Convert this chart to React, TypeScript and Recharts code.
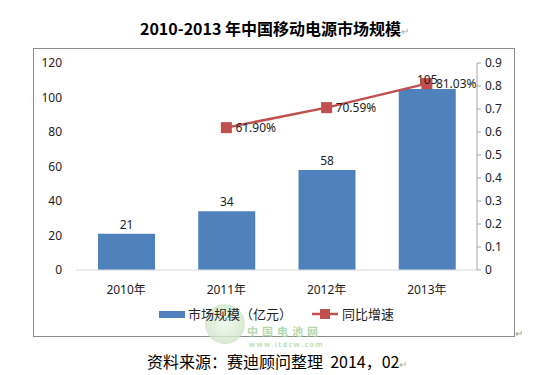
import { ComposedChart, Bar, Line, XAxis, YAxis, LabelList } from 'recharts'

const years = ['2010年', '2011年', '2012年', '2013年']
const marketSize = [21, 34, 58, 105]
const growth = [null, 0.619, 0.7059, 0.8103]
const leftTicks = [0, 20, 40, 60, 80, 100, 120]
const rightTicks = [0, 0.1, 0.2, 0.3, 0.4, 0.5, 0.6, 0.7, 0.8, 0.9]

const data = years.map((y, i) => ({ year: y, size: marketSize[i], rate: growth[i] }))

const BLUE = '#4f81bd'
const RED = '#c0504d'
const FONT = '"Noto Sans", "Noto Sans CJK SC", sans-serif'
const CJK = '"Noto Sans CJK SC", sans-serif'

function SquareDot(props: any) {
  const { cx, cy } = props
  if (cx == null || cy == null) return null
  return <rect x={cx - 5.5} y={cy - 5.5} width={11} height={11} fill={RED} />
}

function LegendBox() {
  return (
    <div style={{ position: 'absolute', left: 159, top: 305, display: 'flex', alignItems: 'center', fontFamily: CJK, fontSize: 13, lineHeight: '18px', color: '#222' }}>
      <span style={{ display: 'inline-block', width: 26, height: 7, background: BLUE, marginRight: 3 }} />
      <span>市场规模（亿元）</span>
      <svg width={26} height={12} style={{ marginLeft: 20, marginRight: 4 }}>
        <line x1={0} y1={6} x2={26} y2={6} stroke={RED} strokeWidth={2.5} />
        <rect x={8} y={1} width={10} height={10} fill={RED} />
      </svg>
      <span>同比增速</span>
    </div>
  )
}

export default function App() {
  return (
    <div style={{ position: 'absolute', left: 0, top: 0, width: 539, height: 375, background: '#fff', overflow: 'hidden' }}>
      <div style={{ position: 'absolute', left: 0, width: 549, top: 16, textAlign: 'center', fontFamily: CJK, fontWeight: 700, fontSize: 16, color: '#000' }}>
        2010-2013 年中国移动电源市场规模<span style={{ color: '#aaa', fontWeight: 400, fontSize: 10 }}>↵</span>
      </div>
      <div style={{ position: 'absolute', left: 33, top: 48, width: 480, height: 287, border: '1px solid #8c8c8c' }} />
      <div style={{ position: 'absolute', left: 515, top: 328, color: '#999', fontSize: 10, lineHeight: 1, fontFamily: CJK }}>↵</div>
      <div style={{ position: 'absolute', left: 205, top: 304, width: 40, height: 40, borderRadius: 20, background: 'radial-gradient(circle, #eef6eb 0%, #cfe5c8 70%, #e8f2e4 100%)', opacity: 0.8 }} />
      <div style={{ position: 'absolute', left: 247, top: 326, fontFamily: CJK, fontWeight: 700, fontSize: 11, lineHeight: 1, letterSpacing: 4, color: '#a8d4a2', opacity: 0.85 }}>中国电池网</div>
      <div style={{ position: 'absolute', left: 249, top: 341, fontFamily: FONT, fontWeight: 700, fontSize: 7, lineHeight: 1, color: '#bfe0ba', letterSpacing: 1.5 }}>www.itdcw.com</div>
      <LegendBox />
      <div style={{ position: 'absolute', left: 0, top: 0 }}>
        <ComposedChart width={539} height={375} data={data} margin={{ top: 63, right: 22, left: 36, bottom: 75 }}>
          <XAxis
            dataKey="year"
            axisLine={{ stroke: '#d9d9d9' }}
            tickLine={false}
            tickMargin={9}
            height={30}
            tick={{ fill: '#222', fontSize: 12, fontFamily: FONT }}
          />
          <YAxis
            yAxisId="left"
            domain={[0, 120]}
            ticks={leftTicks}
            axisLine={false}
            tickLine={false}
            tickSize={12}
            tickMargin={2}
            width={40}
            tick={{ fill: '#222', fontSize: 12, fontFamily: FONT }}
          />
          <YAxis
            yAxisId="right"
            orientation="right"
            domain={[0, 0.9]}
            ticks={rightTicks}
            axisLine={{ stroke: '#a6a6a6' }}
            tickLine={{ stroke: '#a6a6a6' }}
            tickSize={4}
            tickMargin={4}
            width={40}
            tick={{ fill: '#222', fontSize: 12, fontFamily: FONT }}
          />
          <Bar yAxisId="left" dataKey="size" fill={BLUE} barSize={57} isAnimationActive={false}>
            <LabelList dataKey="size" position="top" offset={5} fill="#222" fontSize={12} fontFamily={FONT} />
          </Bar>
          <Line
            yAxisId="right"
            dataKey="rate"
            stroke={RED}
            strokeWidth={2.5}
            dot={<SquareDot />}
            activeDot={false}
            connectNulls={false}
            isAnimationActive={false}
          >
            <LabelList
              dataKey="rate"
              position="right"
              offset={9}
              fill="#222"
              fontSize={12}
              fontFamily={FONT}
              formatter={(v: any) => (v == null ? '' : `${(v * 100).toFixed(2)}%`)}
            />
          </Line>
        </ComposedChart>
      </div>
      <div style={{ position: 'absolute', left: 147, top: 353, fontFamily: CJK, fontSize: 16, lineHeight: '16px', color: '#000', whiteSpace: 'pre' }}>
        资料来源：赛迪顾问整理  2014，02<span style={{ color: '#aaa', fontSize: 10 }}>↵</span>
      </div>
    </div>
  )
}
